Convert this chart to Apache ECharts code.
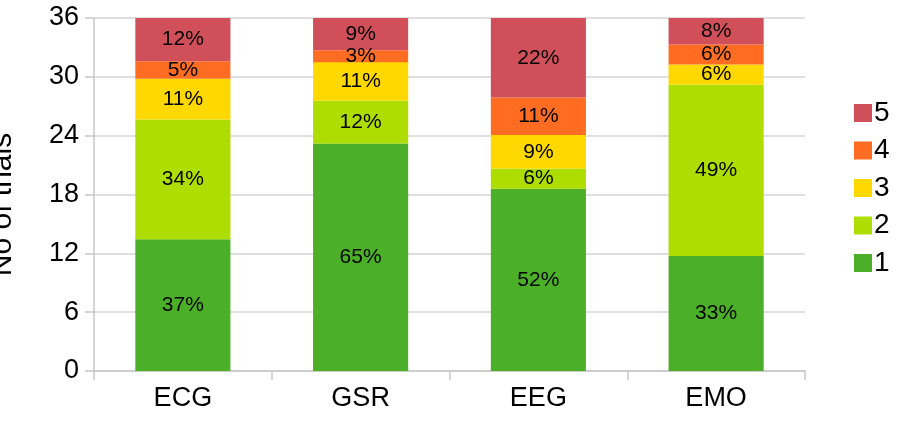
<!DOCTYPE html>
<html>
<head>
<meta charset="utf-8">
<script src="https://cdn.jsdelivr.net/npm/echarts@6/dist/echarts.min.js"></script>
<style>html,body{margin:0;padding:0;background:#fff;}#c{width:899px;height:422px;}</style>
</head>
<body>
<div id="c"></div>
<script>
const categories = ['ECG', 'GSR', 'EEG', 'EMO'];
const seriesNames = ['1', '2', '3', '4', '5'];
const values1 = [13.43, 23.2, 18.58, 11.72];
const values2 = [12.23, 4.35, 2.08, 17.48];
const values3 = [4.14, 3.95, 3.4, 2.06];
const values4 = [1.8, 1.2, 3.84, 2.04];
const values5 = [4.4, 3.3, 8.1, 2.7];
const pct1 = ['37%', '65%', '52%', '33%'];
const pct2 = ['34%', '12%', '6%', '49%'];
const pct3 = ['11%', '11%', '9%', '6%'];
const pct4 = ['5%', '3%', '11%', '6%'];
const pct5 = ['12%', '9%', '22%', '8%'];
const yTicks = [0, 6, 12, 18, 24, 30, 36];
const colors = ['#4BB027', '#AEDD00', '#FFD800', '#FF6C22', '#D04F59'];

const allValues = [values1, values2, values3, values4, values5];
const allPct = [pct1, pct2, pct3, pct4, pct5];
const font = 'Liberation Sans, Arial, sans-serif';

const series = seriesNames.map((name, i) => ({
  name: name,
  type: 'bar',
  stack: 'total',
  barWidth: '53.5%',
  data: allValues[i],
  itemStyle: { color: colors[i] },
  label: {
    show: true,
    position: 'inside',
    formatter: p => allPct[i][p.dataIndex],
    color: '#000',
    fontSize: 21,
    fontFamily: font
  }
}));

const chart = echarts.init(document.getElementById('c'));
chart.setOption({
  animation: false,
  backgroundColor: '#fff',
  grid: { left: 94, right: 94, top: 18, bottom: 51, containLabel: false, outerBoundsMode: 'none' },
  legend: {
    orient: 'vertical',
    left: 854,
    top: 99,
    padding: 0,
    data: ['5', '4', '3', '2', '1'],
    itemWidth: 18,
    itemHeight: 18,
    itemGap: 9.5,
    icon: 'rect',
    selectedMode: false,
    textStyle: { fontSize: 28, fontFamily: font, color: '#000', padding: [0, 0, 0, -3] }
  },
  xAxis: {
    type: 'category',
    data: categories,
    axisLine: { lineStyle: { color: '#c8c8c8', width: 1.5 } },
    axisTick: { show: true, length: 9, lineStyle: { color: '#c8c8c8', width: 1.5 } },
    axisLabel: { fontSize: 27, color: '#000', fontFamily: font, margin: 14 }
  },
  yAxis: {
    type: 'value',
    min: 0,
    max: 36,
    interval: 6,
    name: 'No of trials',
    nameLocation: 'middle',
    nameGap: 76,
    nameTextStyle: { fontSize: 30, color: '#000', fontFamily: font, padding: [0, 20, 0, 0] },
    axisLine: { show: true, lineStyle: { color: '#c8c8c8', width: 1.5 } },
    axisTick: { show: true, length: 9, lineStyle: { color: '#c8c8c8', width: 1.5 } },
    splitLine: { lineStyle: { color: '#d4d4d4', width: 1.5 } },
    axisLabel: {
      fontSize: 27, color: '#000', fontFamily: font, margin: 15,
      formatter: v => (yTicks.indexOf(v) >= 0 ? String(v) : '')
    }
  },
  series: series
});
</script>
</body>
</html>
